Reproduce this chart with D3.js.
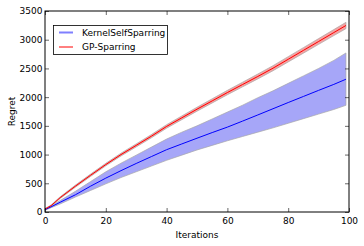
<!DOCTYPE html>
<html><head><meta charset="utf-8">
<script src="https://cdn.jsdelivr.net/npm/d3@7"></script>
<style>body{margin:0;background:#fff}svg{display:block}text{font-family:"DejaVu Sans",sans-serif;font-size:9px;fill:#000}</style>
</head><body><svg id="c" width="364" height="246"></svg>
<script>
const iterations = [0,2,5,10,15,20,25,30,35,40,45,50,55,60,65,70,75,80,85,90,95,99];
const gpMean  = [50,110,250,450,640,826,1000,1160,1320,1490,1640,1790,1935,2080,2220,2360,2504,2659,2814,2969,3124,3248];
const gpLow   = [40,98,235,432,620,804,976,1134,1292,1460,1608,1756,1899,2042,2180,2318,2460,2613,2766,2919,3072,3193];
const gpHigh  = [60,122,265,468,660,848,1024,1186,1348,1520,1672,1824,1971,2118,2260,2402,2548,2705,2862,3019,3176,3303];
const ksMean  = [40,90,170,300,450,590,720,845,965,1085,1185,1285,1383,1478,1583,1690,1798,1906,2012,2118,2222,2312];
const ksLow   = [30,75,140,260,375,490,600,700,800,900,990,1080,1160,1240,1315,1390,1465,1545,1625,1705,1785,1858];
const ksHigh  = [50,105,200,360,530,700,850,990,1130,1270,1390,1500,1620,1740,1860,1990,2110,2240,2370,2500,2640,2770];
const xTicks = [0,20,40,60,80,100];
const yTicks = [0,500,1000,1500,2000,2500,3000,3500];
const seriesNames = ["KernelSelfSparring","GP-Sparring"];

const svg = d3.select("#c");
const L=45,R=349,T=11,B=212;
const x = d3.scaleLinear().domain([0,100]).range([L,R]);
const y = d3.scaleLinear().domain([0,3500]).range([B,T]);

const area = (lo,hi)=>d3.area().x((d,i)=>x(iterations[i])).y0((d,i)=>y(lo[i])).y1((d,i)=>y(hi[i]));
const line = (m)=>d3.line().x((d,i)=>x(iterations[i])).y((d,i)=>y(m[i]));

svg.append("path").datum(ksMean).attr("d",area(ksLow,ksHigh)).attr("fill","#a6a6f8").attr("stroke","#a8a8a8").attr("stroke-width",0.7);
svg.append("path").datum(gpMean).attr("d",area(gpLow,gpHigh)).attr("fill","#f5a3a3").attr("stroke","#a8a8a8").attr("stroke-width",0.7);
svg.append("path").datum(ksMean).attr("d",line(ksMean)).attr("fill","none").attr("stroke","#0000ff").attr("stroke-width",1);
svg.append("path").datum(gpMean).attr("d",line(gpMean)).attr("fill","none").attr("stroke","#ff0000").attr("stroke-width",1);

const fmt = d3.format("d");
const gx = svg.append("g").attr("transform",`translate(0,${B})`).call(d3.axisBottom(x).tickValues(xTicks).tickFormat(fmt).tickSizeInner(-4).tickSizeOuter(0).tickPadding(6));
const gy = svg.append("g").attr("transform",`translate(${L},0)`).call(d3.axisLeft(y).tickValues(yTicks).tickFormat(fmt).tickSizeInner(-4).tickSizeOuter(0).tickPadding(2.5));
const gx2 = svg.append("g").attr("transform",`translate(0,${T})`).call(d3.axisTop(x).tickValues(xTicks).tickSizeInner(-4).tickSizeOuter(0).tickFormat(""));
const gy2 = svg.append("g").attr("transform",`translate(${R},0)`).call(d3.axisRight(y).tickValues(yTicks).tickSizeInner(-4).tickSizeOuter(0).tickFormat(""));
[gx,gy,gx2,gy2].forEach(g=>{g.select(".domain").remove();g.selectAll("line").attr("stroke","#000").attr("stroke-width",0.6);g.selectAll("text").attr("font-family","DejaVu Sans").attr("font-size",9).attr("fill","#000");});
svg.append("rect").attr("x",L).attr("y",T).attr("width",R-L).attr("height",B-T).attr("fill","none").attr("stroke","#000").attr("stroke-width",1);

svg.append("text").attr("x",(L+R)/2).attr("y",238).attr("text-anchor","middle").text("Iterations");
svg.append("text").attr("transform",`translate(14.5,${(T+B)/2}) rotate(-90)`).attr("text-anchor","middle").text("Regret");

const lg = svg.append("g");
lg.append("rect").attr("x",53.5).attr("y",25.5).attr("width",114).attr("height",29).attr("fill","#fff").attr("stroke","#000").attr("stroke-width",0.8);
const lc = ["#7f7fff","#ff0000"], lw=[2,1];
seriesNames.forEach((n,i)=>{
  const yy = 32.5+i*14.5;
  lg.append("line").attr("x1",59).attr("x2",73).attr("y1",yy).attr("y2",yy).attr("stroke",lc[i]).attr("stroke-width",lw[i]);
  lg.append("text").attr("x",82).attr("y",yy+3.2).text(n);
});
</script></body></html>
